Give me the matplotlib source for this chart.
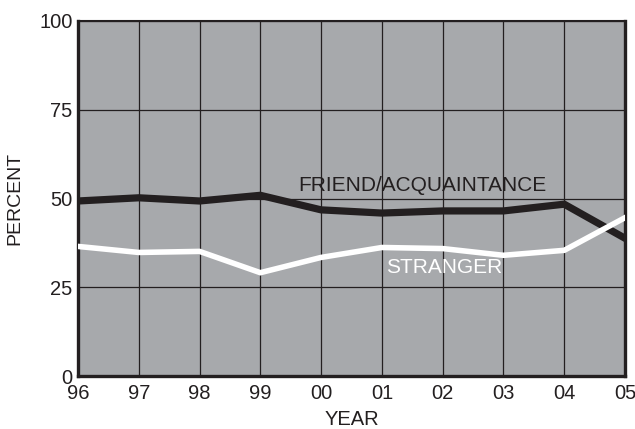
import matplotlib
matplotlib.use("Agg")
import matplotlib.pyplot as plt

years = [1996, 1997, 1998, 1999, 2000, 2001, 2002, 2003, 2004, 2005]
year_labels = ["96", "97", "98", "99", "00", "01", "02", "03", "04", "05"]
friend = [49.3, 50.2, 49.3, 50.9, 46.8, 45.9, 46.5, 46.5, 48.4, 38.8]
stranger = [36.5, 34.8, 35.1, 29.1, 33.4, 36.2, 35.9, 34.0, 35.4, 44.6]
y_ticks = [0, 25, 50, 75, 100]

plt.rcParams['font.family'] = ['Liberation Sans', 'DejaVu Sans']

fig = plt.figure(figsize=(6.35, 4.29), dpi=100)
ax = fig.add_axes([78/635, (429-376)/429, (625-78)/635, (376-21)/429])
ax.set_facecolor('#a7a9ac')

ax.plot(years, friend, color='#231f20', lw=5.2, solid_joinstyle='miter', zorder=3)
ax.plot(years, stranger, color='white', lw=4.0, solid_joinstyle='miter', zorder=3)

ax.set_xlim(years[0], years[-1])
ax.set_ylim(0, 100)
ax.set_xticks(years)
ax.set_xticklabels(year_labels)
ax.set_yticks(y_ticks)
ax.grid(True, color='#231f20', lw=0.9, zorder=1)
ax.set_axisbelow(True)
ax.tick_params(axis='x', length=0, labelsize=14.5, colors='#231f20', pad=6)
ax.tick_params(axis='y', length=0, labelsize=14.5, colors='#231f20', pad=4)

for s in ['left', 'bottom', 'right']:
    ax.spines[s].set_linewidth(2.4)
    ax.spines[s].set_color('#231f20')
ax.spines['top'].set_linewidth(1.5)
ax.spines['top'].set_color('#231f20')

ax.set_xlabel('YEAR', fontsize=14.5, color='#231f20', labelpad=5)
ax.set_ylabel('PERCENT', fontsize=14, color='#231f20', labelpad=11)

ax.text(2001.66, 53.6, 'FRIEND/ACQUAINTANCE', fontsize=15, color='#231f20',
        ha='center', va='center', zorder=4)
ax.text(2002.02, 30.7, 'STRANGER', fontsize=15, color='white',
        ha='center', va='center', zorder=4)

fig.savefig('out.png', dpi=100)
